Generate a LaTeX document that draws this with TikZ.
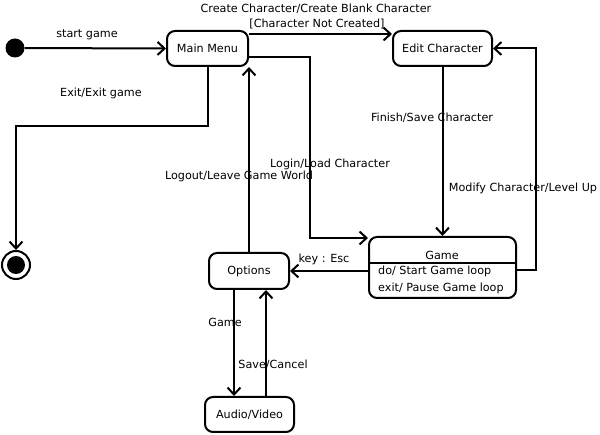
\documentclass[tikz,border=0pt]{standalone}
\usepackage{fontspec}
\setmainfont{DejaVu Sans}
\usetikzlibrary{arrows.meta}
\begin{document}
\begin{tikzpicture}[x=1pt,y=-1pt,
  every node/.style={font=\fontsize{11.2}{13}\selectfont, inner sep=0pt},
  stbox/.style={draw, line width=2pt, rounded corners=8pt, minimum height=35pt},
  arr/.style={line width=2pt, -{Straight Barb[length=7pt,width=13pt,line width=2pt]}}]
\useasboundingbox (0,0) rectangle (600,435);
% states
\node[circle, fill=black, minimum size=19pt] (init) at (15,48) {};
\node[circle, draw, line width=2pt, minimum size=28pt] (fin) at (16,265) {};
\node[circle, fill=black, minimum size=18pt] (finin) at (16,265) {};
\node[stbox, minimum width=81pt] (mm) at (207.5,48.5) {Main Menu};
\node[stbox, minimum width=99pt] (ec) at (442.5,48.5) {Edit Character};
\node[stbox, minimum width=80pt, minimum height=36pt] (opt) at (249,271) {Options};
\node[stbox, minimum width=89pt] (av) at (249.5,414.5) {Audio/Video};
\node[stbox, minimum width=147pt, minimum height=61pt] (game) at (442.5,267.5) {};
\node (gt) at (442,255) {Game};
\node[anchor=west] (gdo) at (378,271) {do/ Start Game loop};
\node[anchor=west] (gex) at (378,288) {exit/ Pause Game loop};
\draw[line width=2pt] (game.west |- 0,263) -- (game.east |- 0,263);
% connectors
\draw[arr] (init) -- (mm.west);
\draw[arr] (mm.east |- 0,34) -- (ec.west |- 0,34);
\draw[arr] (mm.east |- 0,57) -- (310,57) -- (310,238) -- (game.west |- 0,238);
\draw[arr] (ec.south) -- (game.north);
\draw[arr] (game.east |- 0,270) -- (536,270) -- (536,48.5) -- (ec.east);
\draw[arr] (game.west |- 0,271) -- (opt.east |- 0,271);
\draw[arr] (opt.north) -- (mm.south -| opt.north);
\draw[arr] (mm.south) -- (mm.south |- 0,126) -- (16,126) -- (fin.north);
\draw[arr] (opt.south -| 234,0) -- (av.north -| 234,0);
\draw[arr] (av.north -| 266,0) -- (opt.south -| 266,0);
% labels
\node (l1) at (87,35) {start game};
\node (l2) at (316,9) {Create Character/Create Blank Character};
\node (l3) at (317,24) {[Character Not Created]};
\node (l4) at (101,93) {Exit/Exit game};
\node (l5) at (432,118) {Finish/Save Character};
\node (l6) at (330,164) {Login/Load Character};
\node (l7) at (239,176) {Logout/Leave Game World};
\node (l8) at (523,188) {Modify Character/Level Up};
\node (l9) at (324,259) {key : Esc};
\node (l10) at (225,322) {Game};
\node (l11) at (273,365) {Save/Cancel};
\end{tikzpicture}
\end{document}
